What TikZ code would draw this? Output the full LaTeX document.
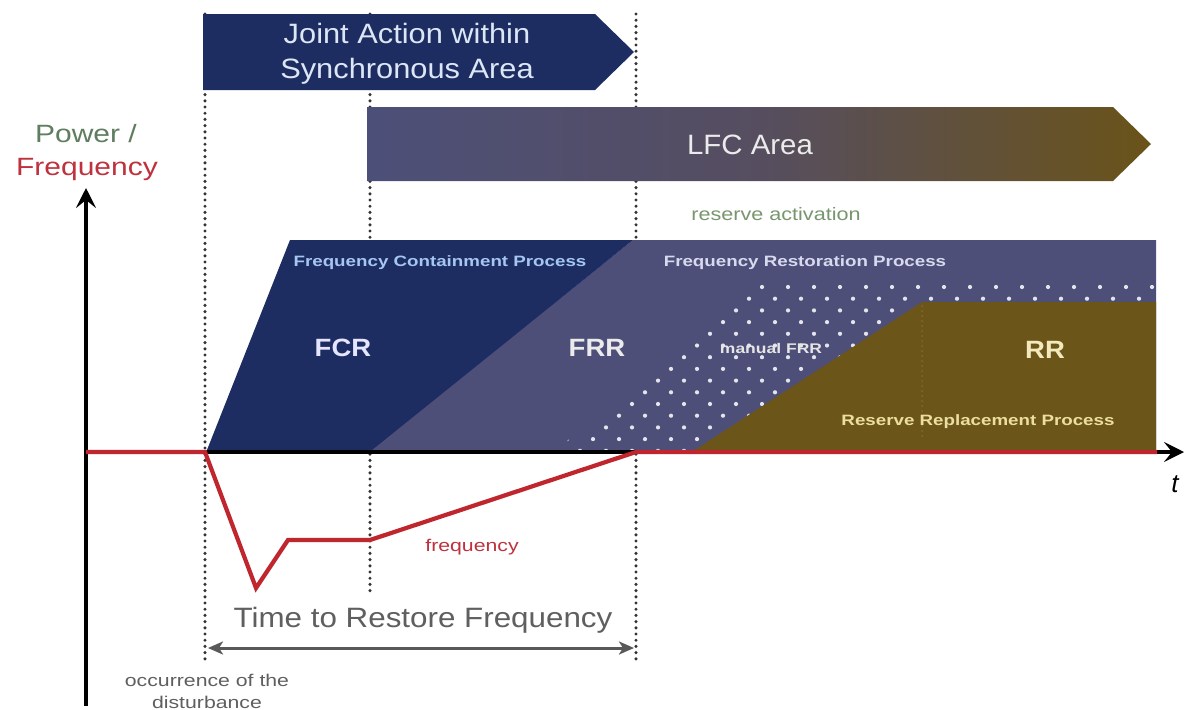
\documentclass[tikz,border=0pt]{standalone}
\usepackage{fontspec}
\usepackage{graphicx}
\setmainfont{Liberation Sans}
\usetikzlibrary{arrows.meta}

\definecolor{navy}{RGB}{29,45,97}
\definecolor{frr}{RGB}{78,79,121}
\definecolor{rrc}{RGB}{107,85,25}
\definecolor{lfcL}{RGB}{76,79,120}
\definecolor{lfcM}{RGB}{86,78,96}
\definecolor{lfcR}{RGB}{106,83,25}
\definecolor{fcpText}{RGB}{165,198,240}
\definecolor{frpText}{RGB}{215,218,238}
\definecolor{rrText}{RGB}{242,234,190}
\definecolor{rrpText}{RGB}{236,222,160}
\definecolor{powGreen}{RGB}{95,125,95}
\definecolor{actGreen}{RGB}{120,150,110}
\definecolor{freqRed}{RGB}{192,38,46}
\definecolor{lblRed}{RGB}{190,50,62}
\definecolor{greyText}{RGB}{95,95,95}
\definecolor{bannerText}{RGB}{220,230,245}

% horizontal stretch of a label
\newcommand\hs[2]{\scalebox{#1}[1]{#2}}

\tikzset{
  guide/.style={draw=black!80, line width=3.4pt, dash pattern=on 0pt off 6.2pt, line cap=round},
  axis/.style={draw=black, line width=3.2pt, -{Stealth[length=20pt,width=20pt,inset=8pt]}},
  freqline/.style={draw=freqRed, line width=4.2pt, line join=miter},
  span/.style={draw=black!65, line width=3pt, {Stealth[length=15pt,width=13pt,inset=4pt]}-{Stealth[length=15pt,width=13pt,inset=4pt]}},
  proc/.style={font=\fontsize{15}{18}\selectfont\bfseries},
  big/.style={font=\fontsize{25}{30}\selectfont\bfseries},
}

\begin{document}
\begin{tikzpicture}[x=1pt,y=-1pt, every node/.style={inner sep=0pt, outer sep=0pt}]
\useasboundingbox[fill=white] (0,0) rectangle (1187,710);

% dotted time markers
\coordinate (g1t) at (205,14);  \coordinate (g1b) at (205,664);
\coordinate (g2t) at (370,14);  \coordinate (g2b) at (370,596);
\coordinate (g3t) at (636,14);  \coordinate (g3b) at (636,664);
\draw[guide] (g1t) -- (g1b);
\draw[guide] (g2t) -- (g2b);
\draw[guide] (g3t) -- (g3b);

% banner: joint action
\fill[navy] (203,14) -- (595,14) -- (634,52) -- (595,90) -- (203,90) -- cycle;
\node[text=bannerText, align=center, font=\fontsize{28}{35}\selectfont] (joint) at (407,54)
  {\hs{1.1}{Joint Action within}\\\hs{1.1}{Synchronous Area}};

% banner: LFC area
\shade[left color=lfcL, right color=lfcR, middle color=lfcM]
  (367,107) -- (1113,107) -- (1151,144) -- (1113,181) -- (367,181) -- cycle;
\node[text=white!92!black, font=\fontsize{28}{34}\selectfont] (lfc) at (750,145) {\hs{1.05}{LFC Area}};

\node[text=actGreen, font=\fontsize{18}{22}\selectfont] (act) at (776,214) {\hs{1.2}{reserve activation}};

% reserve processes
\fill[frr] (370,450) -- (633,240) -- (1156,240) -- (1156,450) -- cycle;
\fill[navy] (207,450) -- (290,240) -- (633,240) -- (372,450) -- cycle;

% manual FRR dot field
\begin{scope}
  \clip (556,450) -- (765,281) -- (1158,281) -- (1158,450) -- cycle;
  \foreach \j in {0,...,14} {
    \foreach \i in {-1,...,24} {
      \pgfmathsetmacro\dx{567+26*\i+13*mod(\j+1,2)}
      \pgfmathsetmacro\dy{287+11.7*\j}
      \fill[white, opacity=0.85] (\dx,\dy) circle (2.1);
    }
  }
\end{scope}

\fill[rrc] (695,450) -- (922,302) -- (1156,302) -- (1156,450) -- cycle;
\draw[rrText, opacity=0.25, line width=1.5pt, dash pattern=on 0pt off 5pt, line cap=round] (922,306) -- (922,440);

\node[proc, text=fcpText] (fcp) at (440,263) {\hs{1.25}{Frequency Containment Process}};
\node[proc, text=frpText] (frp) at (805,263) {\hs{1.25}{Frequency Restoration Process}};
\node[big, text=white!90!blue] (fcr) at (343,348) {\hs{1.1}{FCR}};
\node[big, text=white!92!black] (frrl) at (597,348) {\hs{1.1}{FRR}};
\node[text=white!90!black, font=\fontsize{14}{17}\selectfont\bfseries] (man) at (771,348) {\hs{1.25}{manual FRR}};
\node[big, text=rrText] (rr) at (1045,350) {\hs{1.1}{RR}};
\node[proc, text=rrpText] (rrp) at (978,422) {\hs{1.25}{Reserve Replacement Process}};

% axes
\coordinate (o) at (86,452);
\coordinate (ybot) at (86,706);
\coordinate (ytop) at (86,188);
\coordinate (xend) at (1184,452);
\draw[axis] (ybot) -- (ytop);
\draw[axis] (o) -- (xend);

% frequency trace
\coordinate (f0) at (86,452);
\coordinate (f1) at (205,452);
\coordinate (f2) at (256,588);
\coordinate (f3) at (288,540);
\coordinate (f4) at (370,540);
\coordinate (f5) at (636,452);
\coordinate (f6) at (1157,452);
\draw[freqline] (f0) -- (f1) -- (f2) -- (f3) -- (f4) -- (f5) -- (f6);

\node[text=lblRed, font=\fontsize{17}{20}\selectfont] (freq) at (472,547) {\hs{1.25}{frequency}};

% axis labels
\node[text=powGreen, font=\fontsize{25}{31}\selectfont] (pw) at (86,134) {\hs{1.2}{Power /}};
\node[text=lblRed, font=\fontsize{25}{31}\selectfont] (fq) at (87,169) {\hs{1.2}{Frequency}};
\node[font=\fontsize{26}{30}\selectfont\itshape] (t) at (1175,484) {t};

% restoration span
\coordinate (sL) at (208,648);
\coordinate (sR) at (634,648);
\draw[span] (sL) -- (sR);
\node[text=greyText, font=\fontsize{28}{34}\selectfont] (ttr) at (423,620) {\hs{1.12}{Time to Restore Frequency}};
\node[text=greyText, align=center, font=\fontsize{17}{22}\selectfont] (occ) at (207,691)
  {\hs{1.25}{occurrence of the}\\\hs{1.25}{disturbance}};

\end{tikzpicture}
\end{document}
